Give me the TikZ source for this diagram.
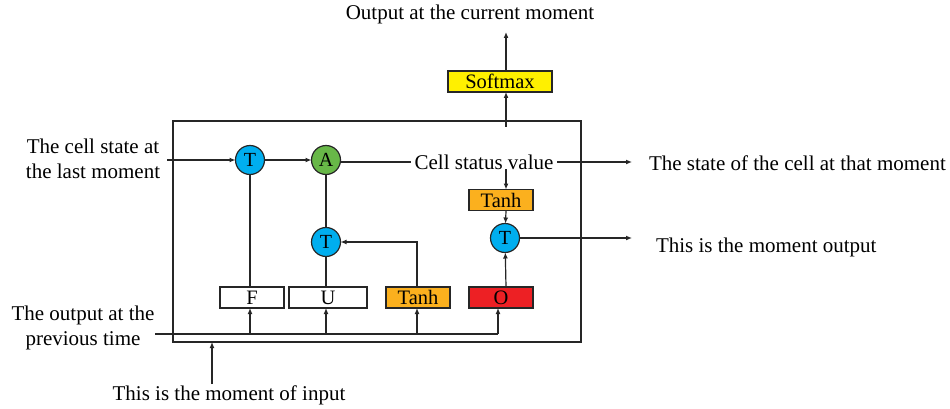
\documentclass[tikz,border=0pt]{standalone}
\usepackage{fontspec}
\setmainfont{Liberation Serif}
\usetikzlibrary{arrows.meta}
\definecolor{tcyan}{RGB}{0,174,239}
\definecolor{agreen}{RGB}{104,184,72}
\definecolor{torange}{RGB}{251,176,30}
\definecolor{ored}{RGB}{237,32,36}
\definecolor{syellow}{RGB}{255,240,0}
\begin{document}
\begin{tikzpicture}[x=1pt,y=-1pt,line width=1.2pt,draw=black!85,
  every node/.style={inner sep=0pt,outer sep=0pt},
  lbl/.style={font=\fontsize{21}{25}\selectfont,align=center},
  circ/.style={circle,draw,minimum size=29pt,font=\fontsize{20}{20}\selectfont},
  gate/.style={draw,minimum height=21pt,font=\fontsize{20.5}{20}\selectfont},
  arr/.style={-{Latex[length=6pt,width=5pt]}}]
\useasboundingbox (0,0) rectangle (950,409);
% main box
\draw (173,121) rectangle (581,342);
% circles
\node[circ,fill=tcyan] (t1) at (250,160) {T};
\node[circ,fill=agreen] (a) at (326,160) {A};
\node[circ,fill=tcyan] (t3) at (326,242) {T};
\node[circ,fill=tcyan] (t2) at (505,238) {T};
% gates
\node[gate,minimum width=64pt] (f) at (252,297.5) {F};
\node[gate,minimum width=78pt] (u) at (328,297.5) {U};
\node[gate,minimum width=64pt,fill=torange] (th1) at (418,297.5) {Tanh};
\node[gate,minimum width=64pt,fill=ored] (o) at (501,297.5) {O};
\node[gate,minimum width=64pt,fill=torange] (th2) at (501,200) {Tanh};
\node[gate,minimum width=104pt,fill=syellow] (sm) at (500,81.5) {Softmax};
% labels
\node[lbl] (outcur) at (470,14) {Output at the current moment};
\node[lbl,fill=white,inner xsep=4pt] (csv) at (484,162) {Cell status value};
\node[lbl,anchor=west] (stcell) at (649,163) {The state of the cell at that moment};
\node[lbl,anchor=west] (momout) at (656,247) {This is the moment output};
\node[lbl] (cellst) at (93,159) {The cell state at\\the last moment};
\node[lbl] (prevout) at (83,328) {The output at the\\previous time};
\node[lbl] (input) at (229,395) {This is the moment of input};
% coordinates
\coordinate (cin) at (167,160);
\coordinate (pin) at (155,334);
\coordinate (pend) at (498,334);
\coordinate (iin) at (212,384);
\coordinate (ibox) at (212,342);
\coordinate (col) at (506,127);
\coordinate (outtop) at (506,32);
\coordinate (rs) at (632,162);
\coordinate (ro) at (632,238);
% connectors
\draw[arr] (cin) -- (t1);
\draw[arr] (t1) -- (a);
\draw (a.east |- csv) -- (csv);
\draw[arr] (csv) -- (rs);
\draw[arr] (col |- csv.south) -- (col |- th2.north);
\draw[arr] (col |- th2.south) -- (t2);
\draw[arr] (col |- o.north) -- (t2);
\draw[arr] (t2) -- (ro);
\draw[arr] (col) -- (col |- sm.south);
\draw[arr] (col |- sm.north) -- (outtop);
\draw (a) -- (t3);
\draw (t1 |- f.north) -- (t1);
\draw (t3 |- u.north) -- (t3);
\draw[arr] (417,0 |- th1.north) |- (t3.east);
\draw (pin) -- (pend);
\draw[arr] (pend) -- (pend |- o.south);
\draw[arr] (t1 |- pin) -- (t1 |- f.south);
\draw[arr] (t3 |- pin) -- (t3 |- u.south);
\draw[arr] (417,334) -- (417,0 |- th1.south);
\draw[arr] (iin) -- (ibox);
\end{tikzpicture}
\end{document}
